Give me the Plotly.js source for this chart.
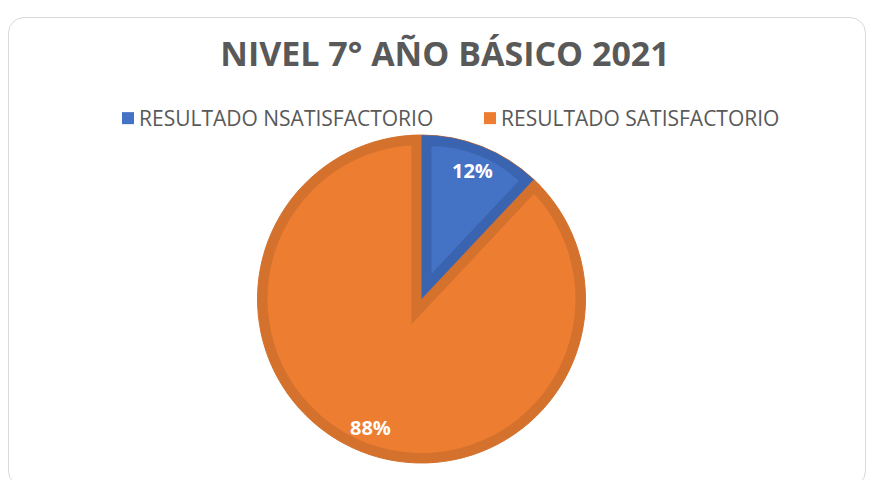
<!DOCTYPE html>
<html>
<head>
<meta charset="utf-8">
<script src="https://cdn.plot.ly/plotly-3.0.1.min.js"></script>
<style>
  html, body { margin: 0; padding: 0; background: #ffffff; overflow: hidden; }
  #wrap { position: relative; width: 872px; height: 480px; }
  #chart { position: absolute; left: 0; top: 0; width: 872px; height: 480px; }
  #frame { position: absolute; left: 8px; top: 17px; width: 858px; height: 470px;
           border: 1.5px solid #d9d9d9; border-radius: 16px; pointer-events: none; box-sizing: border-box; }
  #chart .pielayer path { stroke-linejoin: miter !important; stroke-miterlimit: 6 !important; }
  #chart .legend .legendtext { transform: translateX(-9px); }
</style>
</head>
<body>
<div id="wrap"><div id="chart"></div><div id="frame"></div></div>
<script>
// ---- data ----
var titleText = "NIVEL 7° AÑO BÁSICO 2021";
var categories = ["RESULTADO NSATISFACTORIO", "RESULTADO SATISFACTORIO"];
var values = [12, 88];
var percentLabels = ["12%", "88%"];

// ---- style ----
var W = 872, H = 480;
var cx = 421.5, cy = 299, R = 164, bw = 10;
var lightColors = ["#4472C4", "#ED7D31"];
var darkColors = ["#3A64B0", "#D4712D"];
var clear = "rgba(0,0,0,0)";
var textColor = "#595959";

function dom(r) {
  return { x: [(cx - r) / W, (cx + r) / W], y: [(H - cy - r) / H, (H - cy + r) / H] };
}
function basePie(extra) {
  var t = {
    type: "pie", labels: categories, values: values, sort: false,
    direction: "clockwise", rotation: 0, textinfo: "none", hoverinfo: "skip",
    showlegend: false
  };
  for (var k in extra) t[k] = extra[k];
  return t;
}

var total = values.reduce(function (a, b) { return a + b; }, 0);
var blueHalf = Math.PI * values[0] / total;            // half angle of first slice
var apexShift = bw / Math.sin(blueHalf);                // inner-border apex offset
var innerR = 127.5;                                     // radius of inner light wedge
var pull0 = apexShift / innerR;

var traces = [
  // full dark-orange disc (outer border colour)
  basePie({ domain: dom(R), marker: { colors: [darkColors[1], darkColors[1]], line: { color: darkColors[1], width: 1 } } }),
  // light fill disc, also provides the legend swatches
  basePie({ domain: dom(R - bw), showlegend: true, marker: { colors: lightColors, line: { width: 0 } } }),
  // orange inner border along the radial edges of the first slice
  basePie({ domain: dom(R - bw), marker: { colors: [clear, clear], line: { color: [darkColors[1], clear], width: [2 * bw, 0] } } }),
  // dark blue slice
  basePie({ domain: dom(R), marker: { colors: [darkColors[0], clear], line: { width: 0 } } }),
  // light blue inner wedge
  basePie({ domain: dom(innerR * (1 + pull0)), pull: [pull0, 0], marker: { colors: [lightColors[0], clear], line: { width: 0 } } })
];

// percentage labels positioned along each slice's bisector
var annotations = [];
var cum = 0;
for (var i = 0; i < values.length; i++) {
  var mid = 2 * Math.PI * (cum + values[i] / 2) / total;
  cum += values[i];
  var rr = 0.845 * R;
  var px = cx + rr * Math.sin(mid);
  var py = cy - rr * Math.cos(mid);
  annotations.push({
    xref: "paper", yref: "paper", x: px / W, y: (H - py) / H,
    xanchor: "center", yanchor: "middle", showarrow: false,
    text: "<b>" + percentLabels[i] + "</b>",
    font: { family: "Open Sans", size: 20, color: "#ffffff" }
  });
}

var layout = {
  width: W, height: H,
  margin: { l: 0, r: 0, t: 0, b: 0 },
  paper_bgcolor: "rgba(0,0,0,0)", plot_bgcolor: "rgba(0,0,0,0)",
  title: {
    text: "<b>" + titleText + "</b>",
    font: { family: "Open Sans", size: 34, color: textColor },
    x: 445 / W, xanchor: "center", yref: "container", y: 1 - 54 / H, yanchor: "middle"
  },
  showlegend: true,
  legend: {
    orientation: "h", x: 108 / W, xanchor: "left", y: 1 - 98 / H, yanchor: "top",
    font: { family: "Open Sans", size: 21, color: textColor },
    entrywidth: 317, entrywidthmode: "pixels", traceorder: "normal",
    bgcolor: "rgba(0,0,0,0)", borderwidth: 0
  },
  annotations: annotations
};

Plotly.newPlot("chart", traces, layout, { staticPlot: true, displayModeBar: false });
</script>
</body>
</html>
